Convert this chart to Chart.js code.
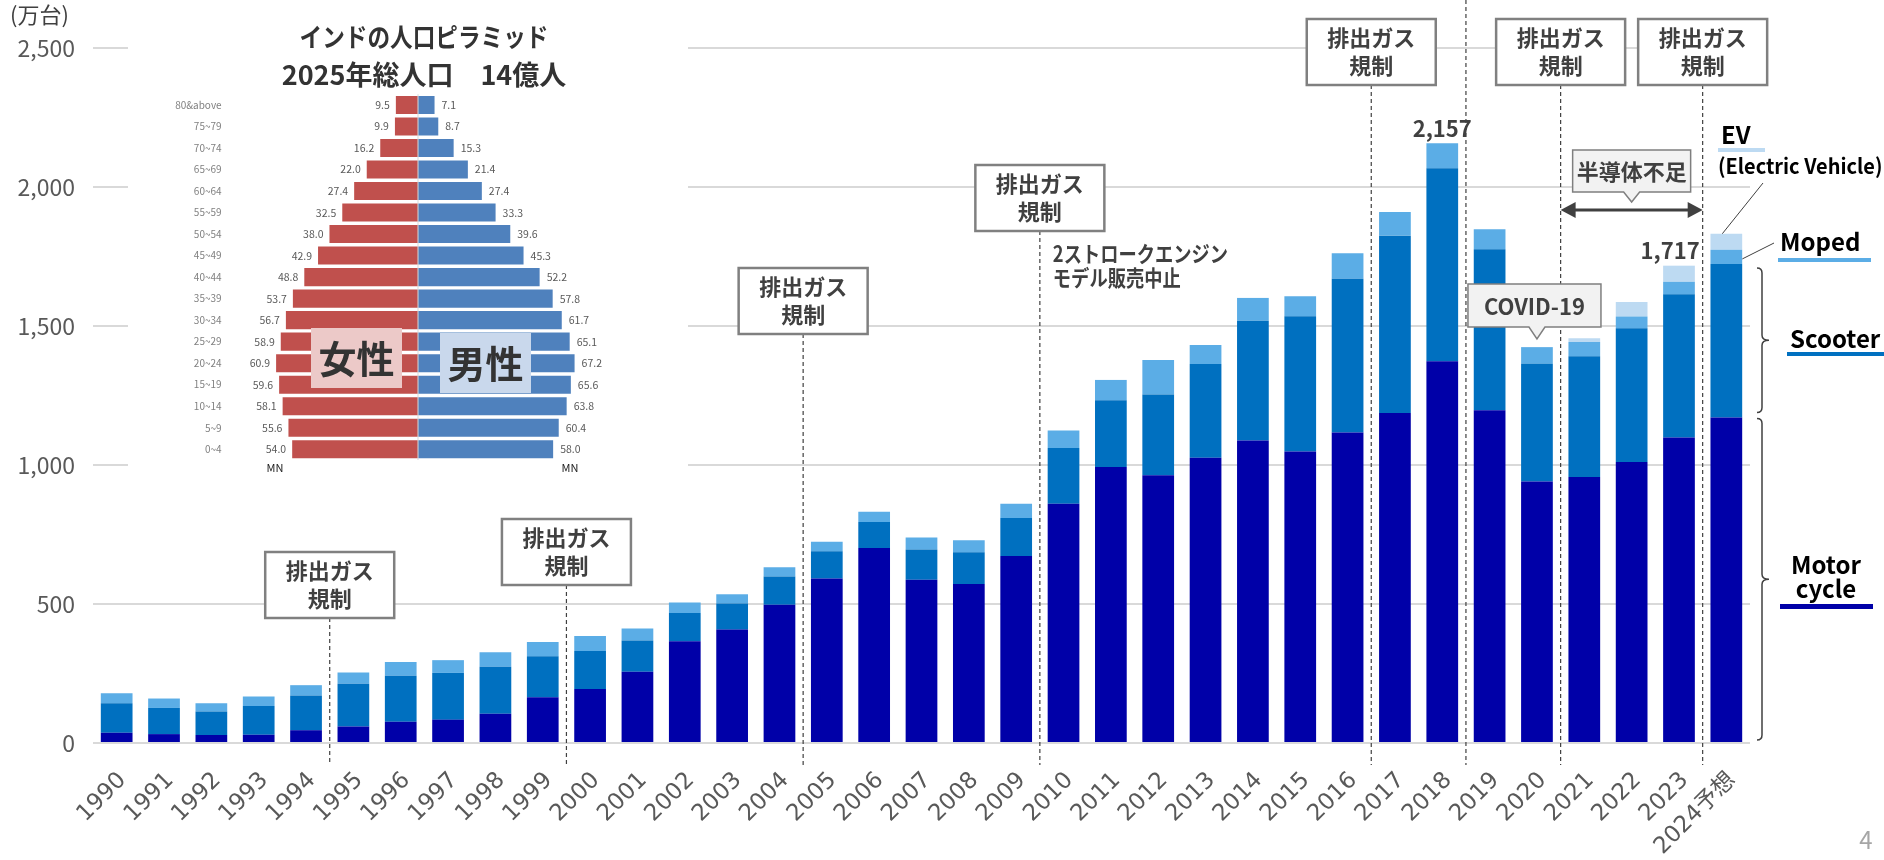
<!DOCTYPE html>
<html lang="ja">
<head>
<meta charset="utf-8">
<script src="https://cdn.jsdelivr.net/npm/chart.js@4.4.1/dist/chart.umd.min.js"></script>
<style>
html,body{margin:0;padding:0;background:#fff;}
#wrap{position:relative;width:1884px;height:860px;overflow:hidden;}
#main{position:absolute;left:0;top:0;}
#pyr{position:absolute;left:128px;top:0;width:560px;height:476px;background:#fff;}
</style>
</head>
<body>
<div id="wrap">
  <canvas id="main" width="1884" height="860"></canvas>
  <div id="pyr"><canvas id="pyramid" width="560" height="476"></canvas></div>
</div>
<script>
// インド二輪販売台数（万台）
const YEARS = ['1990','1991','1992','1993','1994','1995','1996','1997','1998','1999',
  '2000','2001','2002','2003','2004','2005','2006','2007','2008','2009',
  '2010','2011','2012','2013','2014','2015','2016','2017','2018','2019',
  '2020','2021','2022','2023','2024予想'];
const MOTORCYCLE = [37,32,29,30,46,59,76,84,105,165,194,256,366,408,497,592,701,587,572,673,
  861,993,963,1026,1088,1049,1117,1187,1373,1197,941,957,1011,1099,1171];
const SCOOTER = [106,94,84,103,125,154,166,168,169,147,137,113,102,94,102,98,94,109,114,136,
  200,240,291,337,431,486,553,638,694,579,423,434,481,515,552];
const MOPED = [36,34,30,34,37,41,49,46,52,51,54,43,37,33,33,34,37,43,43,52,
  63,73,124,69,82,72,92,85,90,72,60,51,42,45,51];
const EV = [0,0,0,0,0,0,0,0,0,0,0,0,0,0,0,0,0,0,0,0,
  0,0,0,0,0,0,0,0,0,0,0,14,52,58,58];
const Y_TICKS = [0,500,1000,1500,2000,2500];

// 人口ピラミッド（百万人）
const AGE_GROUPS = ['80&above','75~79','70~74','65~69','60~64','55~59','50~54','45~49','40~44',
  '35~39','30~34','25~29','20~24','15~19','10~14','5~9','0~4'];
const FEMALE = [9.5,9.9,16.2,22.0,27.4,32.5,38.0,42.9,48.8,53.7,56.7,58.9,60.9,59.6,58.1,55.6,54.0];
const MALE = [7.1,8.7,15.3,21.4,27.4,33.3,39.6,45.3,52.2,57.8,61.7,65.1,67.2,65.6,63.8,60.4,58.0];

const FONT = '"Noto Sans CJK JP", "Noto Sans", sans-serif';
const TICK_FONT = '"DejaVu Sans", "Noto Sans CJK JP", sans-serif';
const C_MOTO='#0000A8', C_SCOOT='#0070C0', C_MOPED='#5BADE6', C_EV='#BDDAF2';

// 排出ガス規制の位置（境界の右側の年のindex, 箱の上端）
const REGS = [{i:5,top:552},{i:10,top:519},{i:15,top:268},{i:20,top:165},{i:27,top:19},{i:31,top:19},{i:34,top:19}];

function edge(chart,i){const x=chart.scales.x;return (x.getPixelForValue(i-1)+x.getPixelForValue(i))/2;}
function total(i){return MOTORCYCLE[i]+SCOOTER[i]+MOPED[i]+EV[i];}

// 横方向に詰めた文字
function squeezed(ctx,text,x,y,sx){
  ctx.save();ctx.translate(x,y);ctx.scale(sx,1);ctx.fillText(text,0,0);ctx.restore();
}
function dashed(ctx,x,y1,y2){
  ctx.save();ctx.strokeStyle='#404040';ctx.lineWidth=1.2;ctx.setLineDash([4,3]);
  ctx.beginPath();ctx.moveTo(x,y1);ctx.lineTo(x,y2);ctx.stroke();ctx.restore();
}
function regBox(ctx,cx,top){
  const w=129,h=66;
  ctx.fillStyle='#fff';ctx.fillRect(cx-w/2,top,w,h);
  ctx.strokeStyle='#808080';ctx.lineWidth=2.5;ctx.strokeRect(cx-w/2,top,w,h);
  ctx.fillStyle='#404040';ctx.font='bold 22px '+FONT;ctx.textAlign='center';ctx.textBaseline='middle';
  ctx.fillText('排出ガス',cx,top+h/2-14);ctx.fillText('規制',cx,top+h/2+14);
}
function callout(ctx,x1,y1,w,h,tx,ty,text){
  ctx.beginPath();
  ctx.moveTo(x1,y1);ctx.lineTo(x1+w,y1);ctx.lineTo(x1+w,y1+h);
  ctx.lineTo(tx+8,y1+h);ctx.lineTo(tx,ty);ctx.lineTo(tx-8,y1+h);
  ctx.lineTo(x1,y1+h);ctx.closePath();
  ctx.fillStyle='#F2F2F2';ctx.fill();
  ctx.strokeStyle='#7F7F7F';ctx.lineWidth=1.5;ctx.stroke();
  ctx.fillStyle='#404040';ctx.font='bold 22px '+FONT;ctx.textAlign='center';ctx.textBaseline='middle';
  ctx.fillText(text,x1+w/2,y1+h/2+1);
}
function brace(ctx,x,y1,y2){
  const ym=(y1+y2)/2,r=5;
  ctx.save();ctx.strokeStyle='#404040';ctx.lineWidth=1.5;ctx.beginPath();
  ctx.moveTo(x-r,y1);ctx.quadraticCurveTo(x,y1,x,y1+r);ctx.lineTo(x,ym-r);ctx.quadraticCurveTo(x,ym,x+r+2,ym);
  ctx.moveTo(x+r+2,ym);ctx.quadraticCurveTo(x,ym,x,ym+r);ctx.lineTo(x,y2-r);ctx.quadraticCurveTo(x,y2,x-r,y2);
  ctx.stroke();ctx.restore();
}
function line(ctx,x1,y1,x2,y2){
  ctx.save();ctx.strokeStyle='#404040';ctx.lineWidth=1;ctx.beginPath();ctx.moveTo(x1,y1);ctx.lineTo(x2,y2);ctx.stroke();ctx.restore();
}

const annot = {
  id:'annot',
  afterDraw(chart){
    const ctx=chart.ctx, x=chart.scales.x, y=chart.scales.y;
    ctx.save();
    // 単位
    ctx.fillStyle='#404040';ctx.font='22px '+FONT;ctx.textAlign='left';ctx.textBaseline='middle';
    ctx.fillText('(万台)',10,15);
    // 点線
    REGS.forEach(r=>dashed(ctx,edge(chart,r.i),r.top+66,765));
    dashed(ctx,edge(chart,29),0,765);
    REGS.forEach(r=>regBox(ctx,edge(chart,r.i),r.top));
    // 2ストローク
    ctx.fillStyle='#404040';ctx.font='bold 22px '+FONT;ctx.textAlign='left';ctx.textBaseline='middle';
    const e20=edge(chart,20);
    squeezed(ctx,'2ストロークエンジン',e20+13,254,0.83);
    squeezed(ctx,'モデル販売中止',e20+13,278,0.83);
    // ピーク値
    ctx.textAlign='center';ctx.textBaseline='bottom';
    ctx.fillText(total(28).toLocaleString('en-US'),x.getPixelForValue(28),y.getPixelForValue(total(28))-4);
    ctx.textAlign='right';
    ctx.fillText(total(33).toLocaleString('en-US'),edge(chart,34)-3,y.getPixelForValue(total(33))-4);
    // 半導体不足
    const a1=edge(chart,31),a2=edge(chart,34),ay=210;
    ctx.strokeStyle='#404040';ctx.lineWidth=3;ctx.beginPath();ctx.moveTo(a1+12,ay);ctx.lineTo(a2-12,ay);ctx.stroke();
    ctx.fillStyle='#404040';
    ctx.beginPath();ctx.moveTo(a1,ay);ctx.lineTo(a1+15,ay-8);ctx.lineTo(a1+15,ay+8);ctx.closePath();ctx.fill();
    ctx.beginPath();ctx.moveTo(a2,ay);ctx.lineTo(a2-15,ay-8);ctx.lineTo(a2-15,ay+8);ctx.closePath();ctx.fill();
    const am=(a1+a2)/2;
    callout(ctx,am-59,150,118,42,am,202,'半導体不足');
    // COVID-19
    const c=x.getPixelForValue(30);
    callout(ctx,c-69,284,133,43,c,339,'COVID-19');
    // 右側の凡例
    const last=YEARS.length-1, bxr=x.getPixelForValue(last)+16;
    const yMoto=y.getPixelForValue(MOTORCYCLE[last]), yScoot=y.getPixelForValue(MOTORCYCLE[last]+SCOOTER[last]);
    const yMoped=y.getPixelForValue(MOTORCYCLE[last]+SCOOTER[last]+MOPED[last]), yEV=y.getPixelForValue(total(last));
    brace(ctx,1762,yScoot+4,yMoto-5);
    brace(ctx,1762,yMoto+1,y.getPixelForValue(0)-3);
    line(ctx,1763,183,x.getPixelForValue(last)-4,yEV);
    line(ctx,bxr,(yMoped+yScoot)/2+2,1774,243);
    ctx.fillStyle=C_EV;ctx.fillRect(1718,148,47,4);
    ctx.fillStyle=C_MOPED;ctx.fillRect(1778,258,93,4);
    ctx.fillStyle=C_SCOOT;ctx.fillRect(1787,352,97,4);
    ctx.fillStyle=C_MOTO;ctx.fillRect(1780,604,93,5);
    ctx.fillStyle='#000';ctx.textBaseline='middle';ctx.textAlign='left';
    ctx.font='bold 24px '+FONT;
    ctx.fillText('EV',1721,135);
    ctx.fillText('Moped',1780,242);
    ctx.fillText('Scooter',1790,339);
    ctx.textAlign='center';
    ctx.fillText('Motor',1826,565);ctx.fillText('cycle',1826,589);
    ctx.textAlign='left';ctx.font='bold 21px '+FONT;
    squeezed(ctx,'(Electric Vehicle)',1718,166,0.95);
    // ページ番号
    ctx.fillStyle='#A6A6A6';ctx.font='24px '+FONT;ctx.textAlign='center';
    ctx.fillText('4',1866,840);
    ctx.restore();
  }
};

new Chart(document.getElementById('main'),{
  type:'bar',
  data:{labels:YEARS,datasets:[
    {label:'Motor cycle',data:MOTORCYCLE,backgroundColor:C_MOTO},
    {label:'Scooter',data:SCOOTER,backgroundColor:C_SCOOT},
    {label:'Moped',data:MOPED,backgroundColor:C_MOPED},
    {label:'EV',data:EV,backgroundColor:C_EV},
  ]},
  options:{
    responsive:false,animation:false,
    layout:{padding:{left:0,right:134,top:48,bottom:0}},
    datasets:{bar:{categoryPercentage:1,barPercentage:0.67}},
    plugins:{legend:{display:false},tooltip:{enabled:false}},
    scales:{
      x:{stacked:true,grid:{display:false,drawTicks:false},border:{display:false},
        ticks:{autoSkip:false,minRotation:45,maxRotation:45,padding:24,labelOffset:6,color:'#595959',font:{family:TICK_FONT,size:23}},
        afterFit:s=>{s.height=117;}},
      y:{stacked:true,min:0,max:2500,
        afterBuildTicks:s=>{s.ticks=Y_TICKS.map(v=>({value:v}));},
        grid:{color:'#D9D9D9',lineWidth:2,drawTicks:false},border:{display:false},
        ticks:{padding:18,color:'#595959',font:{family:FONT,size:23},callback:v=>v.toLocaleString('en-US')},
        afterFit:s=>{s.width=93;}}
    }
  },
  plugins:[annot]
});

const pyrLabels = {
  id:'pyrLabels',
  afterDraw(chart){
    const ctx=chart.ctx, x=chart.scales.x;
    ctx.save();
    // 中心線
    const cx=x.getPixelForValue(0);
    ctx.strokeStyle='#D9D9D9';ctx.lineWidth=1;ctx.beginPath();ctx.moveTo(cx,chart.chartArea.top);ctx.lineTo(cx,chart.chartArea.bottom);ctx.stroke();
    // 値ラベル
    ctx.font='10.5px '+FONT;ctx.fillStyle='#595959';ctx.textBaseline='middle';
    chart.getDatasetMeta(0).data.forEach((b,i)=>{ctx.textAlign='right';ctx.fillText(FEMALE[i].toFixed(1),b.x-6,b.y);});
    chart.getDatasetMeta(1).data.forEach((b,i)=>{ctx.textAlign='left';ctx.fillText(MALE[i].toFixed(1),b.x+7,b.y);});
    // タイトル
    ctx.fillStyle='#333';ctx.font='bold 26px '+FONT;ctx.textAlign='center';
    squeezed(ctx,'インドの人口ピラミッド',296,37,0.87);
    ctx.font='bold 27px '+FONT;
    ctx.fillText('2025年総人口　14億人',296,75);
    // 女性・男性
    ctx.fillStyle='#ECC9C8';ctx.fillRect(183,328,91,60);
    ctx.fillStyle='#C9D8EC';ctx.fillRect(312,333,91,60);
    ctx.fillStyle='#333';ctx.font='bold 38px '+FONT;
    ctx.fillText('女性',228.5,359);ctx.fillText('男性',357.5,364);
    // MN
    ctx.font='11px '+FONT;ctx.fillStyle='#222';
    ctx.fillText('MN',147,468);ctx.fillText('MN',442,468);
    ctx.restore();
  }
};

new Chart(document.getElementById('pyramid'),{
  type:'bar',
  data:{labels:AGE_GROUPS,datasets:[
    {label:'女性',data:FEMALE.map(v=>-v),backgroundColor:'#C0504D'},
    {label:'男性',data:MALE,backgroundColor:'#4F81BD'},
  ]},
  options:{
    indexAxis:'y',responsive:false,animation:false,
    layout:{padding:{left:0,right:83.6,top:94.2,bottom:14.3}},
    datasets:{bar:{categoryPercentage:1,barPercentage:0.84}},
    plugins:{legend:{display:false},tooltip:{enabled:false}},
    scales:{
      x:{display:false,stacked:true,min:-80,max:80},
      y:{stacked:true,grid:{display:false,drawTicks:false},border:{display:false},
        ticks:{padding:10,color:'#808080',font:{family:FONT,size:10}},
        afterFit:s=>{s.width=103.6;}}
    }
  },
  plugins:[pyrLabels]
});
</script>
</body>
</html>
